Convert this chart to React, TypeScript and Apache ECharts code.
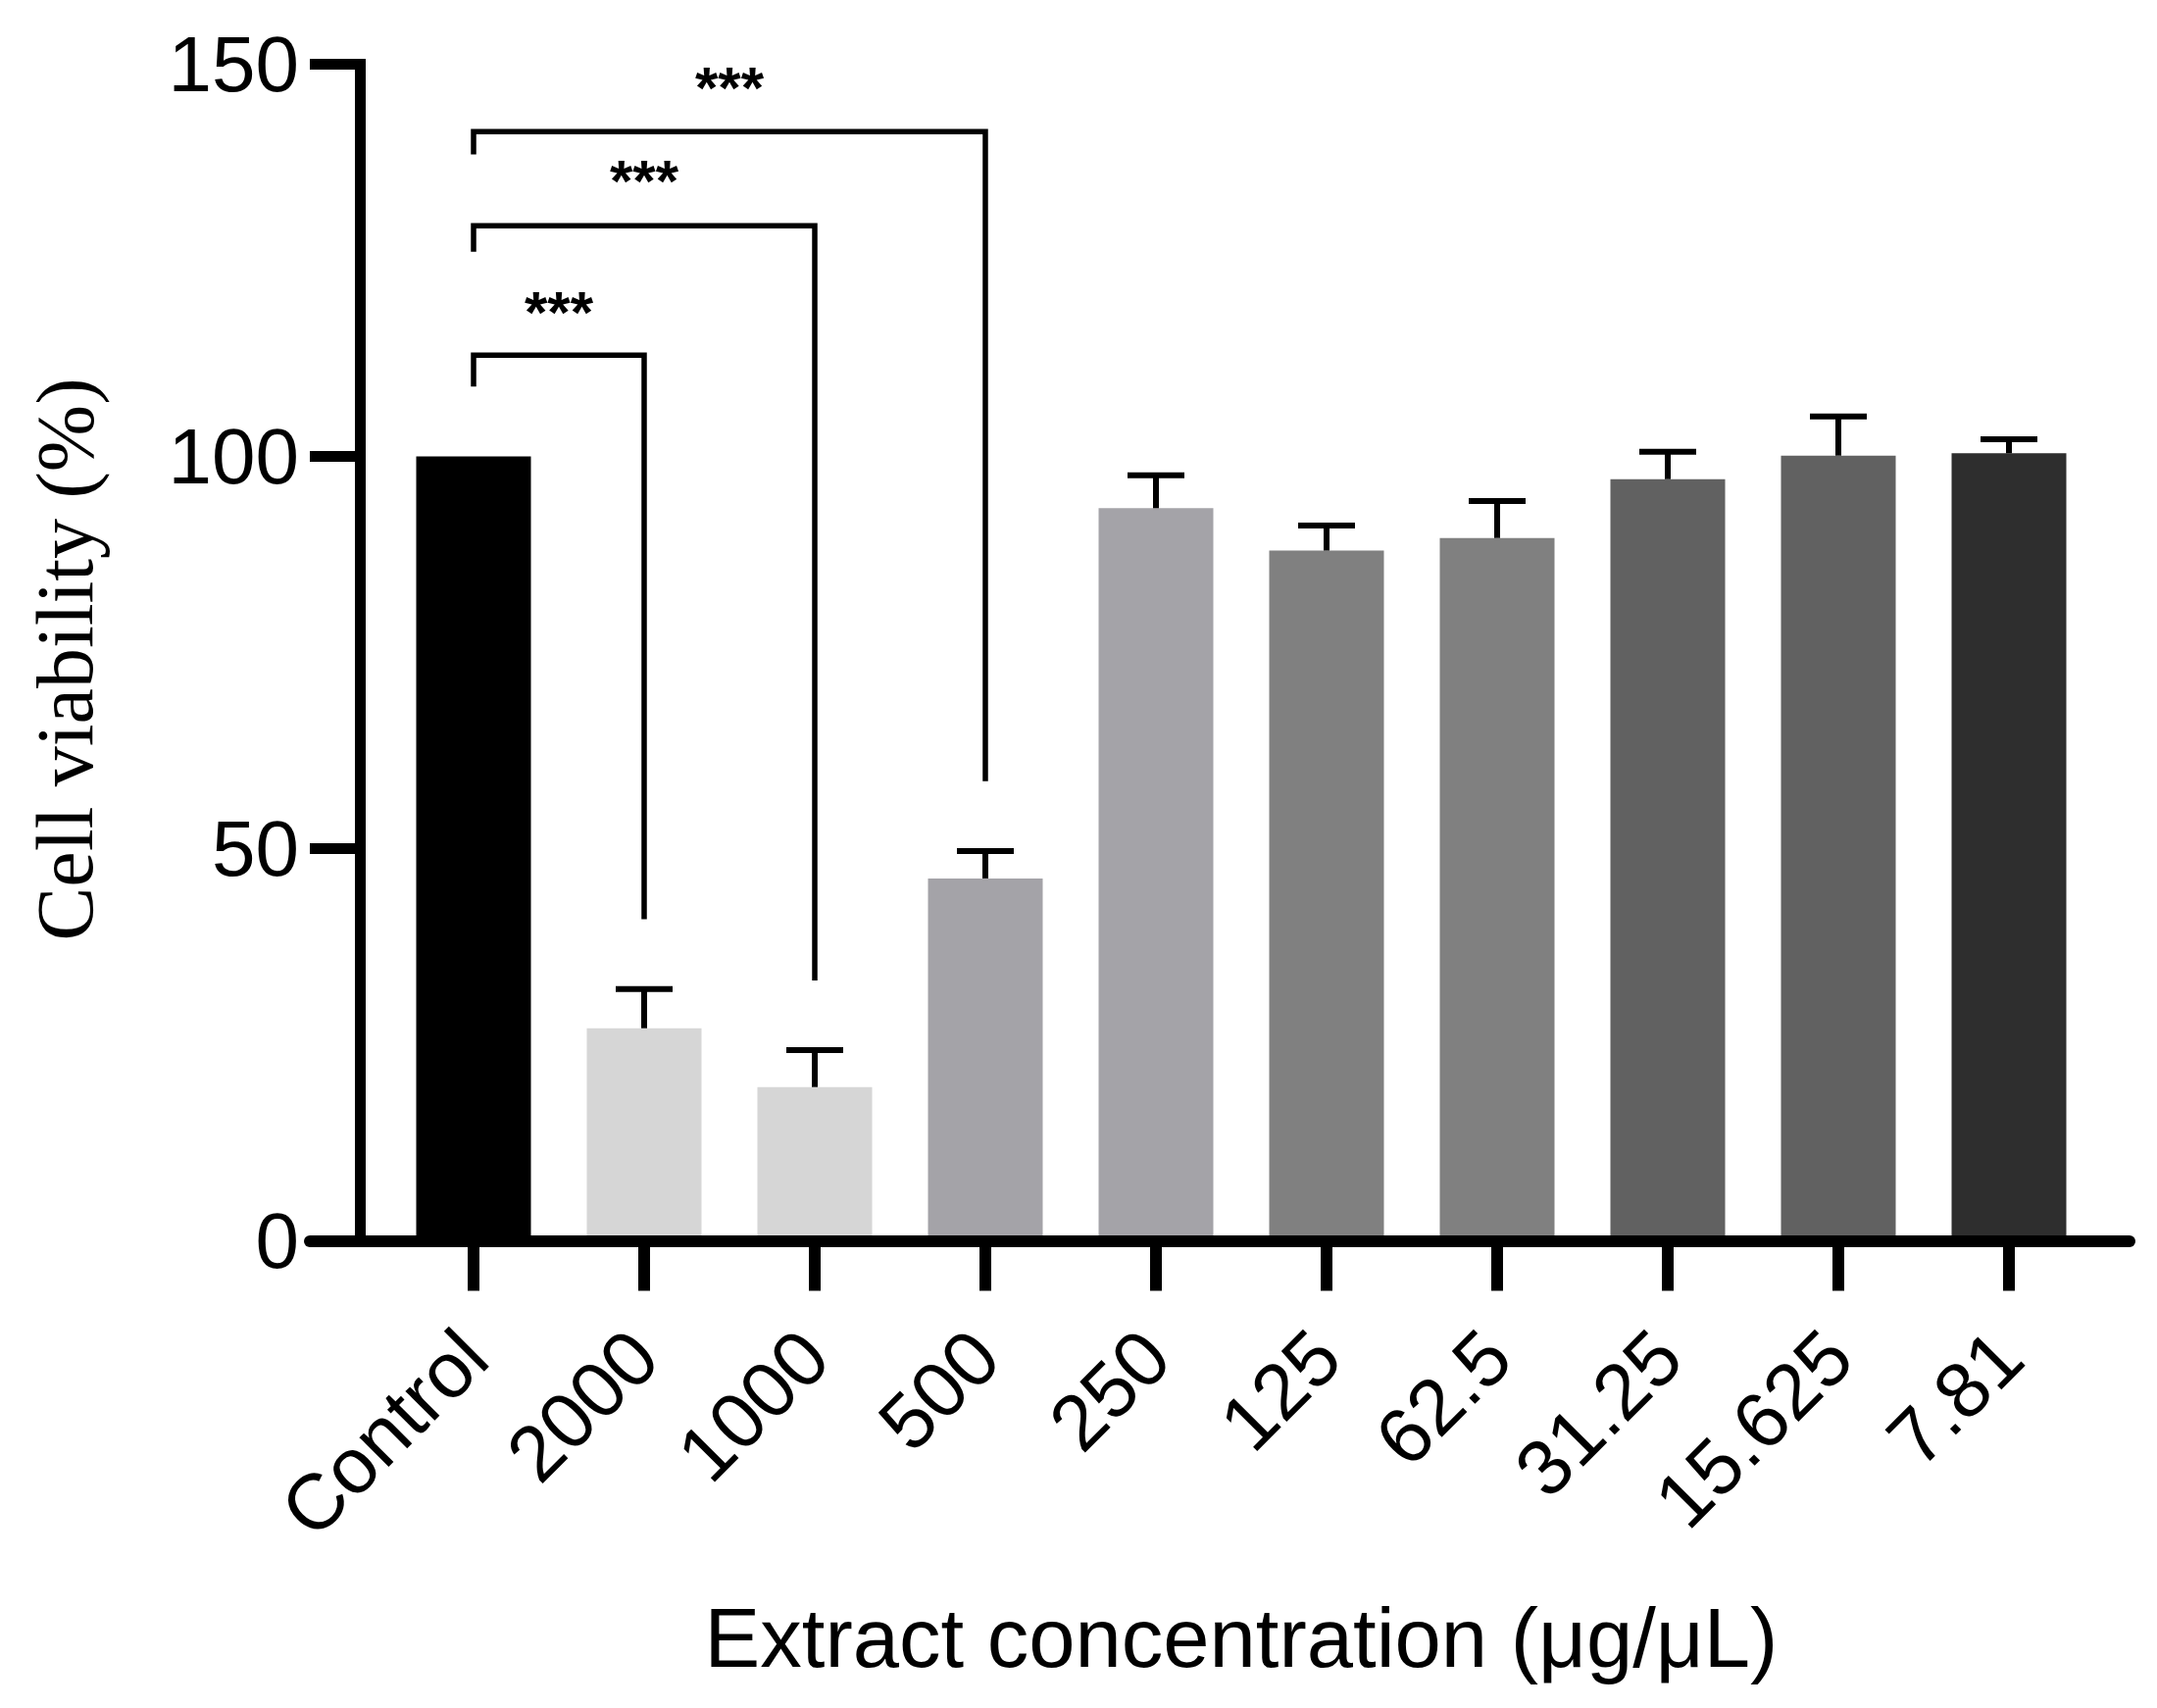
import React, { useEffect, useRef } from "react";
import * as echarts from "echarts";

const categories = ["Control", "2000", "1000", "500", "250", "125", "62.5", "31.25", "15.625", "7.81"];
const means = [100, 27.1, 19.6, 46.2, 93.4, 88.0, 89.6, 97.1, 100.1, 100.4];
const errorTops = [100, 32.1, 24.3, 49.7, 97.6, 91.2, 94.3, 100.6, 105.1, 102.2];
const barColors = ["#000000", "#d6d6d6", "#d6d6d6", "#a4a3a8", "#a4a3a8", "#808080", "#808080", "#616161", "#616161", "#2e2e2e"];

const yMin = 0;
const yMax = 150;
const yInterval = 50;

// significance brackets
const bracketFrom = [0, 0, 0];
const bracketTo = [1, 2, 3];
const bracketTop = [112.9, 129.4, 141.4];
const bracketLeftEnd = [108.9, 126.1, 138.5];
const bracketRightEnd = [41.0, 33.2, 58.6];
const starLevel = [119.3, 136.0, 147.9];
const starLabels = ["***", "***", "***"];

const yTitle = "Cell viability (%)";
const xTitle = "Extract concentration (μg/μL)";

const SANS = '"Liberation Sans", Arial, Helvetica, sans-serif';
const SERIF = '"Liberation Serif", "Times New Roman", Times, serif';

export default function App() {
  const ref = useRef<HTMLDivElement>(null);

  useEffect(() => {
    if (!ref.current) return;
    const chart = echarts.init(ref.current, null, { renderer: "svg" });

    const gridTop = 65.5;
    const gridHeight = 1200;

    const barData = means.map((v, i) => ({ value: v, itemStyle: { color: barColors[i] } }));
    const errData = means.map((v, i) => [i, v, errorTops[i]]);
    const bracketData = bracketFrom.map((f, i) => [f, bracketTop[i], bracketTo[i], bracketLeftEnd[i], bracketRightEnd[i], starLevel[i], i]);

    const option: any = {
      animation: false,
      backgroundColor: "#ffffff",
      grid: [
        { left: 396, width: 1740, top: gridTop, height: gridHeight, containLabel: false },
        { left: 316, width: 1856, top: gridTop, height: gridHeight, containLabel: false },
      ],
      xAxis: [
        {
          type: "category",
          gridIndex: 0,
          data: categories,
          boundaryGap: true,
          axisLine: { show: false },
          axisTick: { show: true, alignWithLabel: true, length: 51, lineStyle: { color: "#000", width: 12 } },
          axisLabel: {
            interval: 0,
            rotate: 45,
            margin: 105,
            color: "#000",
            fontSize: 80,
            fontFamily: SANS,
          },
          splitLine: { show: false },
          name: xTitle,
          nameLocation: "middle",
          nameGap: 362,
          nameTextStyle: { color: "#000", fontSize: 85, fontFamily: SANS },
        },
        {
          type: "value",
          gridIndex: 1,
          min: 0,
          max: 1,
          z: 10,
          axisLine: { show: true, onZero: false, lineStyle: { color: "#000", width: 12 } },
          axisTick: { show: false },
          axisLabel: { show: false },
          splitLine: { show: false },
        },
      ],
      yAxis: [
        {
          type: "value",
          gridIndex: 0,
          min: yMin,
          max: yMax,
          interval: yInterval,
          offset: 29,
          z: 10,
          axisLine: { show: true, lineStyle: { color: "#000", width: 11, cap: "square" } },
          axisTick: { show: true, length: 51, lineStyle: { color: "#000", width: 11 } },
          axisLabel: { margin: 62, color: "#000", fontSize: 80, fontFamily: SANS },
          splitLine: { show: false },
          name: yTitle,
          nameLocation: "middle",
          nameGap: 260,
          nameTextStyle: { color: "#000", fontSize: 82, fontFamily: SERIF, padding: [0, 14, 0, 0] },
        },
        {
          type: "value",
          gridIndex: 1,
          min: 0,
          max: 1,
          show: false,
        },
      ],
      series: [
        {
          type: "bar",
          xAxisIndex: 0,
          yAxisIndex: 0,
          data: barData,
          barWidth: 117,
          z: 2,
        },
        {
          type: "custom",
          xAxisIndex: 0,
          yAxisIndex: 0,
          z: 3,
          data: errData,
          renderItem: (params: any, api: any) => {
            const idx = api.value(0);
            const m = api.value(1);
            const t = api.value(2);
            if (!(t > m)) return { type: "group", children: [] };
            const p0 = api.coord([idx, m]);
            const p1 = api.coord([idx, t]);
            const half = 29;
            const style = { stroke: "#000", lineWidth: 6, fill: null };
            return {
              type: "group",
              children: [
                { type: "line", shape: { x1: p0[0], y1: p0[1], x2: p1[0], y2: p1[1] }, style },
                { type: "line", shape: { x1: p1[0] - half, y1: p1[1], x2: p1[0] + half, y2: p1[1] }, style },
              ],
            };
          },
        },
        {
          type: "custom",
          xAxisIndex: 0,
          yAxisIndex: 0,
          z: 4,
          clip: false,
          data: bracketData,
          renderItem: (params: any, api: any) => {
            const f = api.value(0);
            const top = api.value(1);
            const t = api.value(2);
            const le = api.value(3);
            const re = api.value(4);
            const sy = api.value(5);
            const k = api.value(6);
            const a = api.coord([f, le]);
            const b = api.coord([f, top]);
            const c = api.coord([t, top]);
            const d = api.coord([t, re]);
            const s = api.coord([f, sy]);
            const sx = (b[0] + c[0]) / 2;
            return {
              type: "group",
              children: [
                {
                  type: "polyline",
                  shape: { points: [a, b, c, d] },
                  style: { stroke: "#000", lineWidth: 5.5, fill: null },
                },
                {
                  type: "text",
                  x: sx,
                  y: s[1] + 7,
                  style: {
                    text: starLabels[k],
                    fill: "#000",
                    fontSize: 60,
                    fontWeight: "bold",
                    fontFamily: SANS,
                    align: "center",
                    verticalAlign: "middle",
                  },
                },
              ],
            };
          },
        },
      ],
    };

    chart.setOption(option);
    return () => {
      chart.dispose();
    };
  }, []);

  return (
    <div
      ref={ref}
      style={{ position: "fixed", left: 0, top: 0, width: 2200, height: 1742, background: "#fff" }}
    />
  );
}
